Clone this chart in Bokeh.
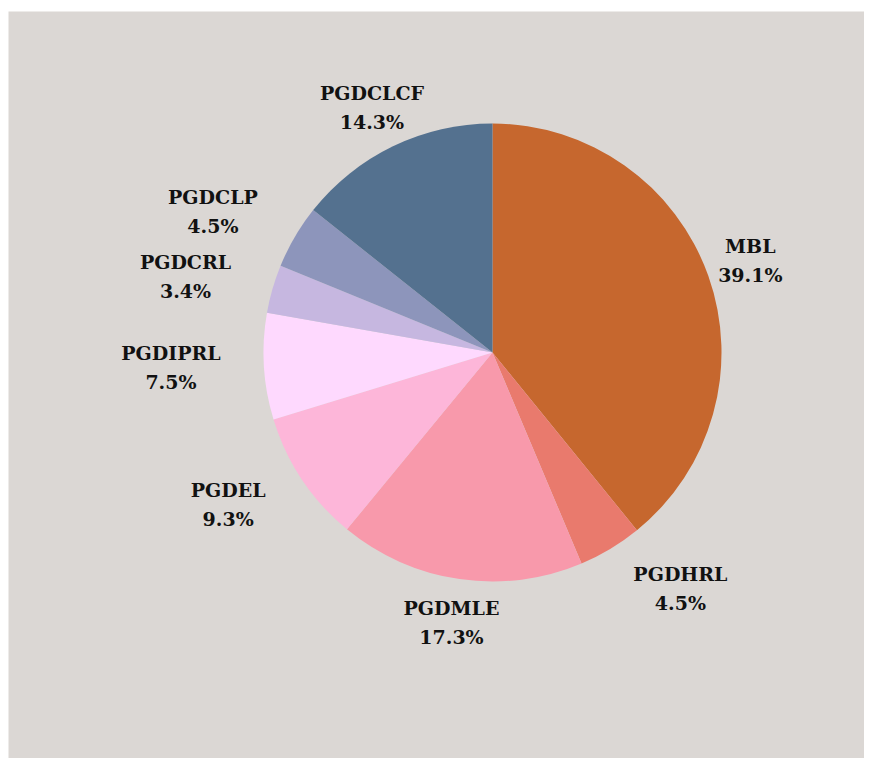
import math
from bokeh.plotting import figure
from bokeh.models import ColumnDataSource, Range1d, Spacer
from bokeh.layouts import column, row
from bokeh.core.properties import value
from bokeh.embed import file_html
from bokeh.resources import INLINE

# ---- data (clockwise from 12 o'clock) ----
categories = ["MBL", "PGDHRL", "PGDMLE", "PGDEL", "PGDIPRL", "PGDCRL", "PGDCLP", "PGDCLCF"]
shares = [39.1, 4.5, 17.3, 9.3, 7.5, 3.4, 4.5, 14.3]
colors = ["#c6672e", "#e97a6d", "#f899ab", "#fdb6d9", "#fed9fe", "#c6b7e0", "#8d95bb", "#54718f"]

# label nudges in screen pixels (from slice rim midpoint), layout only
label_dx = [42, 70, -8, -74, -93, -87, -82, -21]
label_dy = [-15, 40, 43, 25, 1, -12, -25, -39]

# ---- geometry in px of page ----
PAGE_X0, PAGE_Y0 = 8, 11
W, H = 856, 747
CX, CY, R = 492, 352, 229

total = sum(shares)
starts, ends, mids = [], [], []
acc = 0.0
for s in shares:
    a0 = math.pi / 2 - 2 * math.pi * acc / total
    acc += s
    a1 = math.pi / 2 - 2 * math.pi * acc / total
    starts.append(a0)
    ends.append(a1)
    mids.append((a0 + a1) / 2)

pct = [f"{100 * s / total:.1f}%" for s in shares]
ax = [math.cos(m) for m in mids]
ay = [math.sin(m) for m in mids]

src = ColumnDataSource(dict(cat=categories, start=starts, end=ends, color=colors))
lab = ColumnDataSource(dict(x=ax, y=ay, cat=categories, pct=pct,
                            dx=label_dx, dy_name=[d - 14.5 for d in label_dy],
                            dy_pct=[d + 14.5 for d in label_dy]))

x_range = Range1d((PAGE_X0 - CX) / R, (PAGE_X0 + W - CX) / R)
y_range = Range1d((CY - (PAGE_Y0 + H)) / R, (CY - PAGE_Y0) / R)

p = figure(width=W, height=H, x_range=x_range, y_range=y_range,
           output_backend="svg", toolbar_location=None, min_border=0)
p.axis.visible = False
p.grid.visible = False
p.outline_line_color = None
p.background_fill_color = "#dbd7d4"
p.border_fill_color = "#dbd7d4"

p.wedge(x=0, y=0, radius=1, start_angle="start", end_angle="end", direction="clock",
        fill_color="color", line_color=None, source=src)

font = value("DejaVu Serif")
p.text(x="x", y="y", text="cat", x_offset="dx", y_offset="dy_name", source=lab,
       text_font=font, text_font_size="19px", text_font_style="bold",
       text_color="#111111", text_align="center", text_baseline="middle")
p.text(x="x", y="y", text="pct", x_offset="dx", y_offset="dy_pct", source=lab,
       text_font=font, text_font_size="19px", text_font_style="bold",
       text_color="#111111", text_align="center", text_baseline="middle")

layout = column(Spacer(height=PAGE_Y0, width=PAGE_X0 + W),
                row(Spacer(width=PAGE_X0, height=H), p))
open("out.html", "w").write(file_html(layout, INLINE))
